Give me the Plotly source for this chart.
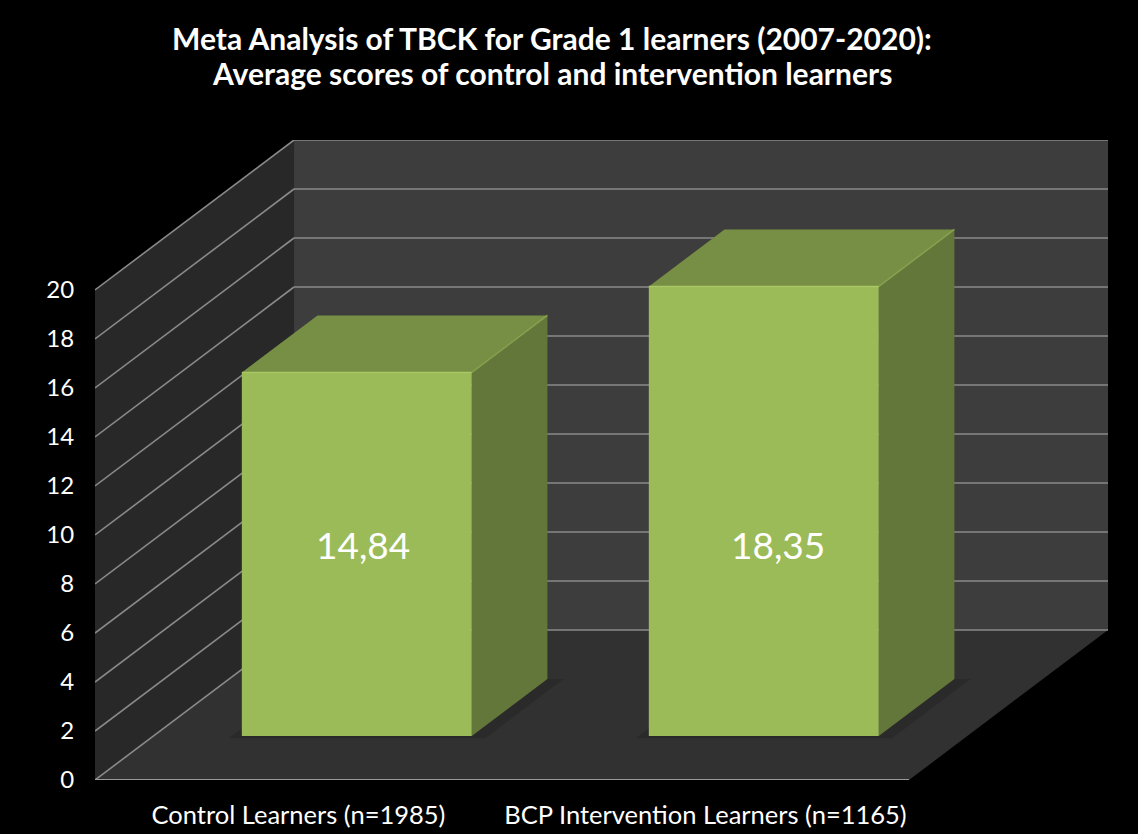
import plotly.graph_objects as go

# ---------------- data ----------------
categories = ["Control Learners (n=1985)", "BCP Intervention Learners (n=1165)"]
values = [14.84, 18.35]
value_labels = ["14,84", "18,35"]
y_ticks = [0, 2, 4, 6, 8, 10, 12, 14, 16, 18, 20]
title_lines = ["Meta Analysis of TBCK for Grade 1 learners (2007-2020):",
               "Average scores of control and intervention learners"]

# ---------------- style / geometry ----------------
Y_MAX = 20
DEPTH_DX = 0.489      # x shift (category units) for full depth
DEPTH_DY = 6.12       # y shift (value units) for full depth
BAR_HALF = 0.2825     # half bar width (category units)
BAR_D0, BAR_D1 = 0.293, 0.673   # bar depth extent (fraction of full depth)
LABEL_LEVEL = 7.8     # height on bar front where value labels sit
LABEL_XSHIFT = [6, 14]  # small pixel nudges of the value labels
FONT = "Lato"

C_LEFT = "#282828"
C_BACK = "#3d3d3d"
C_FLOOR = "#313131"
C_GRID = "#8a8a8a"
C_FRONT = "#9bbb59"
C_TOP = "#778f45"
C_SIDE = "#64773a"

X0 = -0.5
X1 = len(categories) - 0.5


def proj(x, y, d):
    return x + d * DEPTH_DX, y + d * DEPTH_DY


fig = go.Figure()


def poly(pts, color, line_color=None, width=0):
    xs, ys = zip(*[proj(*p) for p in pts])
    xs = list(xs) + [xs[0]]
    ys = list(ys) + [ys[0]]
    fig.add_trace(go.Scatter(
        x=xs, y=ys, mode="lines", fill="toself", fillcolor=color,
        line=dict(color=line_color or color, width=width if line_color else 0),
        hoverinfo="skip", showlegend=False))


def seg(p, q, color=C_GRID, width=1.6):
    a = proj(*p)
    b = proj(*q)
    fig.add_trace(go.Scatter(
        x=[a[0], b[0]], y=[a[1], b[1]], mode="lines",
        line=dict(color=color, width=width), hoverinfo="skip", showlegend=False))


# walls and floor
poly([(X0, 0, 0), (X0, 0, 1), (X0, Y_MAX, 1), (X0, Y_MAX, 0)], C_LEFT)
poly([(X0, 0, 1), (X1, 0, 1), (X1, Y_MAX, 1), (X0, Y_MAX, 1)], C_BACK)
poly([(X0, 0, 0), (X1, 0, 0), (X1, 0, 1), (X0, 0, 1)], C_FLOOR)

# gridlines
for v in y_ticks:
    seg((X0, v, 0), (X0, v, 1))
    seg((X0, v, 1), (X1, v, 1))
seg((X0, 0, 0), (X1, 0, 0), color="#9a9a9a", width=2)

# bars
for i, v in enumerate(values):
    xl, xr = i - BAR_HALF, i + BAR_HALF
    # soft shadow on floor
    poly([(xl - 0.025, 0, BAR_D0 - 0.015), (xr + 0.04, 0, BAR_D0 - 0.015),
          (xr + 0.04, 0, BAR_D1), (xl - 0.025, 0, BAR_D1)], "rgba(0,0,0,0.14)")
    # side
    poly([(xr, 0, BAR_D0), (xr, 0, BAR_D1), (xr, v, BAR_D1), (xr, v, BAR_D0)], C_SIDE)
    # top
    poly([(xl, v, BAR_D0), (xr, v, BAR_D0), (xr, v, BAR_D1), (xl, v, BAR_D1)], C_TOP)
    # front
    poly([(xl, 0, BAR_D0), (xr, 0, BAR_D0), (xr, v, BAR_D0), (xl, v, BAR_D0)], C_FRONT)
    # highlight edges
    seg((xl, v, BAR_D0), (xr, v, BAR_D0), color="#a8c866", width=1.5)
    seg((xr, v, BAR_D0), (xr, v, BAR_D1), color="#86a24e", width=1.5)
    lx, ly = proj(i, LABEL_LEVEL, BAR_D0)
    fig.add_annotation(x=lx, y=ly, text=value_labels[i], showarrow=False,
                       xshift=LABEL_XSHIFT[i],
                       font=dict(family=FONT, size=37, color="white"))

# title (two centred lines)
PLOT_TOP, PLOT_H = 140, 640
for k, (line, ypix) in enumerate(zip(title_lines, [38, 73])):
    fig.add_annotation(x=(552 - 95) / 1013, y=(PLOT_TOP + PLOT_H - ypix) / PLOT_H,
                       xref="paper", yref="paper", xanchor="center", yanchor="middle",
                       text="<b>" + line + "</b>", showarrow=False,
                       font=dict(family=FONT, size=30, color="white"))

fig.update_layout(
    width=1138, height=834, autosize=False,
    paper_bgcolor="black", plot_bgcolor="black",
    margin=dict(l=95, r=30, t=140, b=54, autoexpand=False),
    xaxis=dict(range=[X0, X1 + DEPTH_DX], showgrid=False, zeroline=False,
               showline=False, tickmode="array", automargin=False,
               tickvals=list(range(len(categories))), ticktext=categories,
               ticks="outside", ticklen=12, tickcolor="rgba(0,0,0,0)",
               tickfont=dict(family=FONT, size=25.5, color="white"),
               fixedrange=True),
    yaxis=dict(range=[0, Y_MAX + DEPTH_DY], showgrid=False, zeroline=False,
               showline=False, tickmode="array", tickvals=y_ticks, automargin=False,
               ticktext=[str(t) for t in y_ticks],
               ticks="outside", ticklen=15, tickcolor="rgba(0,0,0,0)",
               tickfont=dict(family=FONT, size=24, color="white"),
               fixedrange=True),
)

fig.write_html("out.html", config={"displayModeBar": False},
               post_script="document.body.style.margin='0';"
                           "document.body.style.background='black';"
                           "document.documentElement.style.overflow='hidden';")
